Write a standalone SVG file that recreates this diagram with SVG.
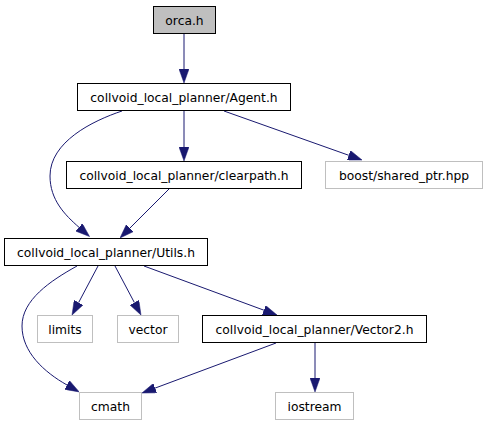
<svg xmlns="http://www.w3.org/2000/svg" width="488" height="427" viewBox="0 0 488 427">
<style>
.n rect{fill:#fff;stroke:#000;stroke-width:1}
.n.root rect{fill:#bfbfbf}
.n.ext rect{stroke:#bfbfbf}
.n text{font-family:"DejaVu Sans",sans-serif;font-size:12.3px;fill:#000;text-anchor:middle}
.e path{fill:none;stroke:#191970;stroke-width:1;marker-end:url(#ah)}
</style>
<defs>
<marker id="ah" viewBox="0 0 14 10" refX="0" refY="5" markerWidth="14" markerHeight="10" markerUnits="userSpaceOnUse" orient="auto">
<path d="M0,0 L14,5 L0,10 z" fill="#191970" stroke="#191970" stroke-width="0.5"/>
</marker>
</defs>
<rect width="488" height="427" fill="#fff"/>
<g id="edges" class="e">
<path d="M184,34 L184,69"/>
<path d="M184,111 L184,147"/>
<path d="M224,111 L348.8,155.3"/>
<path d="M122,111 C92,121 50,142 50,176 C50,200 65,215 79,227.3"/>
<path d="M169,189 L129.9,228.1"/>
<path d="M98,266 L78.6,302.6"/>
<path d="M115,266 L134.4,302.6"/>
<path d="M144,266 L263.9,310.2"/>
<path d="M77,266 C50,281 22,300 22,326 C22,352 44,372 67,385"/>
<path d="M276,343 L155.1,388.1"/>
<path d="M315,343 L315,378"/>
</g>
<g id="orca" class="n root"><rect x="153.5" y="6.5" width="62" height="27"/><text x="184.5" y="24.5">orca.h</text></g>
<g id="agent" class="n"><rect x="77.5" y="83.5" width="213" height="27"/><text x="184" y="101.5">collvoid_local_planner/Agent.h</text></g>
<g id="clearpath" class="n"><rect x="66.5" y="161.5" width="235" height="27"/><text x="184" y="179.5">collvoid_local_planner/clearpath.h</text></g>
<g id="boost" class="n ext"><rect x="325.5" y="161.5" width="157" height="27"/><text x="404" y="179.5">boost/shared_ptr.hpp</text></g>
<g id="utils" class="n"><rect x="4.5" y="238.5" width="203" height="27"/><text x="106" y="256.5">collvoid_local_planner/Utils.h</text></g>
<g id="limits" class="n ext"><rect x="37.5" y="315.5" width="55" height="27"/><text x="65" y="333.5">limits</text></g>
<g id="vector" class="n ext"><rect x="117.5" y="315.5" width="61" height="27"/><text x="148" y="333.5">vector</text></g>
<g id="vector2" class="n"><rect x="202.5" y="315.5" width="224" height="27"/><text x="314.5" y="333.5">collvoid_local_planner/Vector2.h</text></g>
<g id="cmath" class="n ext"><rect x="79.5" y="392.5" width="62" height="27"/><text x="110.5" y="410.5">cmath</text></g>
<g id="iostream" class="n ext"><rect x="275.5" y="392.5" width="78" height="27"/><text x="314.5" y="410.5">iostream</text></g>
</svg>
